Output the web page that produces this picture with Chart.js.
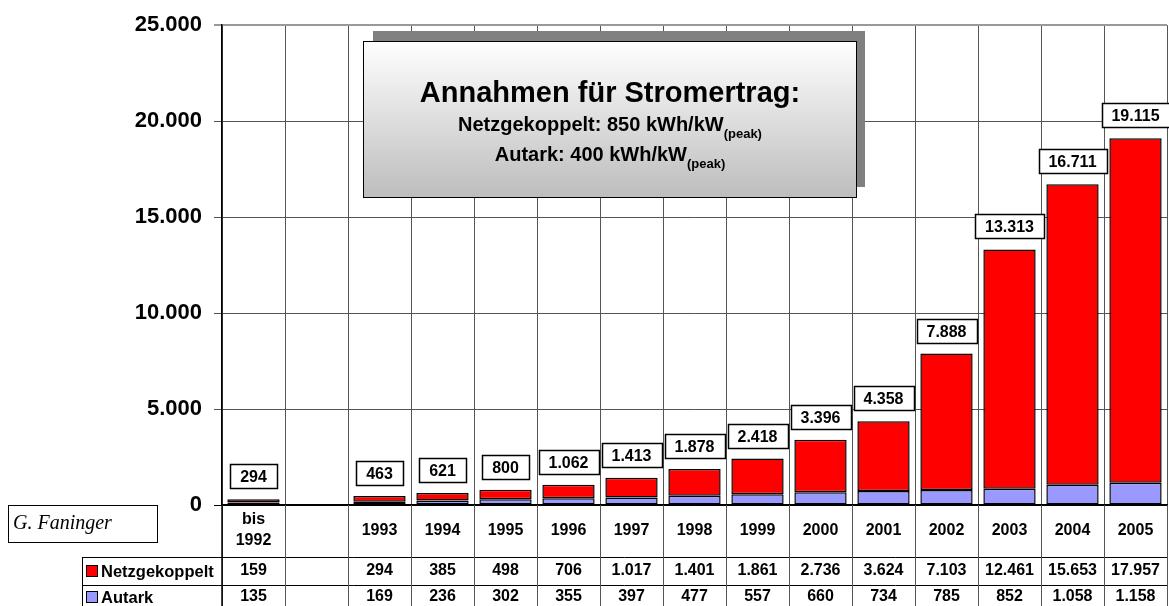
<!DOCTYPE html>
<html><head><meta charset="utf-8">
<script src="https://cdn.jsdelivr.net/npm/chart.js@4/dist/chart.umd.min.js"></script>
<style>html,body{margin:0;padding:0;background:#fff;}canvas{display:block;}</style>
</head><body>
<canvas id="c" width="1169" height="606"></canvas>
<script>
const categories = [["bis","1992"], "", "1993", "1994", "1995", "1996", "1997", "1998", "1999", "2000", "2001", "2002", "2003", "2004", "2005"];
const netzgekoppelt = [159, null, 294, 385, 498, 706, 1017, 1401, 1861, 2736, 3624, 7103, 12461, 15653, 17957];
const autark = [135, null, 169, 236, 302, 355, 397, 477, 557, 660, 734, 785, 852, 1058, 1158];
const totals = [294, null, 463, 621, 800, 1062, 1413, 1878, 2418, 3396, 4358, 7888, 13313, 16711, 19115];
const yTicks = [0, 5000, 10000, 15000, 20000, 25000];
const seriesNames = ["Netzgekoppelt", "Autark"];
const seriesColors = ["#FF0000", "#9999FF"];
const noteTitle = "Annahmen für Stromertrag:";
const noteLines = [["Netzgekoppelt: 850 kWh/kW", "(peak)"], ["Autark: 400 kWh/kW", "(peak)"]];
const author = "G. Faninger";

const FONT = "'Liberation Sans', Arial, sans-serif";
function fmt(n) { return String(n).replace(/\B(?=(\d{3})+(?!\d))/g, "."); }

const overlay = {
  id: "overlay",
  afterDraw(chart) {
    const ctx = chart.ctx;
    const x = chart.scales.x, y = chart.scales.y;
    const area = chart.chartArea;
    const n = categories.length;
    const step = x.getPixelForValue(1) - x.getPixelForValue(0);
    ctx.save();

    // value label boxes
    ctx.font = "bold 16px " + FONT;
    ctx.textAlign = "center";
    ctx.textBaseline = "middle";
    totals.forEach((t, i) => {
      if (t == null) return;
      const cx = x.getPixelForValue(i);
      const top = y.getPixelForValue(t);
      const txt = fmt(t);
      const w = Math.round(ctx.measureText(txt).width + 20);
      const h = 24;
      const bx = Math.round(cx - w / 2) + 0.5, by = Math.round(top - 11 - h) + 0.5;
      ctx.fillStyle = "#fff";
      ctx.fillRect(bx, by, w, h);
      ctx.strokeStyle = "#000";
      ctx.lineWidth = 1.5;
      ctx.strokeRect(bx, by, w, h);
      ctx.fillStyle = "#000";
      ctx.fillText(txt, cx, by + h / 2 + 1);
    });

    // annotation box
    ctx.fillStyle = "#808080";
    ctx.fillRect(373, 31, 492, 156);
    const g = ctx.createLinearGradient(0, 41, 0, 197);
    g.addColorStop(0, "#ffffff");
    g.addColorStop(1, "#bdbdbd");
    ctx.fillStyle = g;
    ctx.fillRect(363.5, 41.5, 493, 156);
    ctx.strokeStyle = "#000";
    ctx.lineWidth = 1;
    ctx.strokeRect(363.5, 41.5, 493, 156);
    ctx.fillStyle = "#000";
    ctx.textBaseline = "alphabetic";
    ctx.textAlign = "center";
    ctx.font = "bold 29px " + FONT;
    ctx.fillText(noteTitle, 610, 102);
    const baseY = [131, 161];
    noteLines.forEach((ln, k) => {
      ctx.font = "bold 20px " + FONT;
      const w1 = ctx.measureText(ln[0]).width;
      ctx.font = "bold 13px " + FONT;
      const w2 = ctx.measureText(ln[1]).width;
      const sx = 610 - (w1 + w2) / 2;
      ctx.textAlign = "left";
      ctx.font = "bold 20px " + FONT;
      ctx.fillText(ln[0], sx, baseY[k]);
      ctx.font = "bold 13px " + FONT;
      ctx.fillText(ln[1], sx + w1, baseY[k] + 7);
    });

    // table
    const r0 = area.bottom, r1 = 557, r2 = 585, r3 = 606;
    ctx.strokeStyle = "#000";
    ctx.lineWidth = 1;
    ctx.beginPath();
    ctx.moveTo(82, r1 + 0.5); ctx.lineTo(area.right, r1 + 0.5);
    ctx.moveTo(82, r2 + 0.5); ctx.lineTo(area.right, r2 + 0.5);
    ctx.moveTo(82.5, r1); ctx.lineTo(82.5, r3);
    ctx.stroke();
    ctx.strokeStyle = "#555";
    ctx.beginPath();
    for (let i = 0; i <= n; i++) {
      const bx = Math.round(x.getPixelForValue(0) - step / 2 + i * step) + 0.5;
      ctx.moveTo(bx, r0); ctx.lineTo(bx, r3);
    }
    ctx.stroke();
    ctx.strokeStyle = "#000";
    ctx.lineWidth = 1.5;
    ctx.beginPath();
    ctx.moveTo(area.left, r0); ctx.lineTo(area.left, r3);
    ctx.stroke();

    ctx.fillStyle = "#000";
    ctx.font = "bold 16px " + FONT;
    ctx.textAlign = "center";
    ctx.textBaseline = "middle";
    categories.forEach((c, i) => {
      const cx = x.getPixelForValue(i);
      if (Array.isArray(c)) {
        ctx.fillText(c[0], cx, 520);
        ctx.fillText(c[1], cx, 541);
      } else if (c) {
        ctx.fillText(c, cx, 531);
      }
      if (netzgekoppelt[i] != null) ctx.fillText(fmt(netzgekoppelt[i]), cx, 571);
      if (autark[i] != null) ctx.fillText(fmt(autark[i]), cx, 597);
    });
    // legend in table
    const rowsY = [571, 597];
    ctx.textAlign = "left";
    seriesNames.forEach((s, k) => {
      ctx.fillStyle = seriesColors[k];
      ctx.fillRect(86.5, rowsY[k] - 5.5, 11, 11);
      ctx.strokeStyle = "#000";
      ctx.lineWidth = 1;
      ctx.strokeRect(86.5, rowsY[k] - 5.5, 11, 11);
      ctx.fillStyle = "#000";
      ctx.font = "bold 16.5px " + FONT;
      ctx.fillText(s, 101, rowsY[k] + 1);
    });

    // author box
    ctx.fillStyle = "#fff";
    ctx.fillRect(8.5, 505.5, 149, 37);
    ctx.strokeStyle = "#000";
    ctx.lineWidth = 1;
    ctx.strokeRect(8.5, 505.5, 149, 37);
    ctx.fillStyle = "#000";
    ctx.font = "italic 20px 'Liberation Serif', 'Times New Roman', serif";
    ctx.textAlign = "left";
    ctx.textBaseline = "alphabetic";
    ctx.fillText(author, 13, 529);
    ctx.restore();
  }
};

new Chart(document.getElementById("c"), {
  type: "bar",
  data: {
    labels: categories,
    datasets: [
      { label: seriesNames[1], data: autark, backgroundColor: seriesColors[1], borderColor: "#000", borderWidth: 1.5, borderSkipped: false, barPercentage: 0.83, categoryPercentage: 1 },
      { label: seriesNames[0], data: netzgekoppelt, backgroundColor: seriesColors[0], borderColor: "#000", borderWidth: 1.5, borderSkipped: false, barPercentage: 0.83, categoryPercentage: 1 }
    ]
  },
  options: {
    responsive: false,
    animation: false,
    devicePixelRatio: 1,
    layout: { padding: { top: 21, right: 2, bottom: 101, left: 0 } },
    plugins: { legend: { display: false }, tooltip: { enabled: false }, title: { display: false } },
    scales: {
      x: {
        stacked: true,
        offset: true,
        ticks: { display: false },
        grid: { offset: true, color: "#555", lineWidth: 1, drawTicks: false },
        border: { display: true, color: "#000", width: 1.5 },
        afterFit(s) { s.height = 0; }
      },
      y: {
        stacked: true,
        min: 0,
        max: 25000,
        afterBuildTicks(s) { s.ticks = yTicks.map(v => ({ value: v })); },
        ticks: { color: "#000", padding: 12, font: { family: FONT, weight: "bold", size: 22 }, callback: v => fmt(v) },
        grid: {
          color: c => (c.tick && c.tick.value === 0) ? "#000" : (c.tick && c.tick.value === 25000 ? "#999" : "#555"),
          lineWidth: c => (c.tick && c.tick.value === 25000) ? 2 : 1,
          tickLength: 8
        },
        border: { color: "#000", width: 1.5 },
        afterFit(s) { s.width = 222; }
      }
    }
  },
  plugins: [overlay]
});
</script>
</body></html>
